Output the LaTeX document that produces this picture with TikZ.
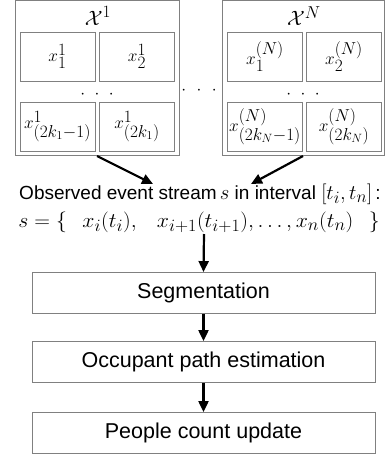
\documentclass[tikz,border=0pt]{standalone}
\usepackage{graphicx}
\usepackage{fontspec}
\setsansfont{Liberation Sans}
\usetikzlibrary{arrows.meta,calc}
\DeclareMathSizes{19}{19}{17}{12.5}
\DeclareMathSizes{20}{20}{17}{13}
\DeclareMathSizes{21}{21}{17.5}{13}
\begin{document}
\begin{tikzpicture}[x=1pt,y=-1pt,
  outerbox/.style={draw=black!50,line width=1pt,inner sep=0pt},
  cell/.style={draw=black!50,line width=0.9pt,minimum width=75pt,minimum height=49pt,inner sep=0pt,font=\fontsize{19}{22}\selectfont},
  flowbox/.style={draw=black!50,line width=0.9pt,minimum width=343pt,minimum height=41pt,inner sep=0pt,font=\sffamily\fontsize{21.5}{24}\selectfont},
  flowarrow/.style={line width=2.2pt,-{Triangle[length=11pt,width=10pt]}},
  biglabel/.style={font=\fontsize{21}{24}\selectfont,inner sep=0pt},
  dotsnode/.style={font=\fontsize{19}{22}\selectfont,inner sep=0pt}
]
\useasboundingbox (0,0) rectangle (390,459);
% outer boxes
\node[outerbox,minimum width=164pt,minimum height=155pt] (X1) at (97,78) {};
\node[outerbox,minimum width=162pt,minimum height=155pt] (XN) at (303,78) {};
\node[biglabel] (X1lab) at (98,16) {$\mathcal{X}^1$};
\node[biglabel] (XNlab) at (304,16) {$\mathcal{X}^N$};
% left cells
\node[cell] (a1) at (57.5,56.5) {$x_1^1$};
\node[cell] (a2) at (137,56.5) {$x_2^1$};
\node[cell] (a3) at (57.5,126.5) {$x_{(2k_1-1)}^1$};
\node[cell] (a4) at (137,126.5) {$x_{(2k_1)}^1$};
\node[dotsnode] (ad) at (97,95) {$\cdot\hspace{0.3em}\cdot\hspace{0.3em}\cdot$};
% right cells
\node[cell] (b1) at (265,56.5) {$x_1^{(N)}$};
\node[cell] (b2) at (344,56.5) {$x_2^{(N)}$};
\node[cell] (b3) at (265,126.5) {$x_{(2k_N-1)}^{(N)}$};
\node[cell] (b4) at (344,126.5) {$x_{(2k_N)}^{(N)}$};
\node[dotsnode] (bd) at (303,95) {$\cdot\hspace{0.3em}\cdot\hspace{0.3em}\cdot$};
% middle dots
\node[dotsnode] (md) at (199,91) {$\cdot\hspace{0.35em}\cdot\hspace{0.35em}\cdot$};
% observed line
\node[inner sep=0pt,font=\sffamily\fontsize{19}{22}\selectfont] (obs) at (200,194)
  {Observed event stream\,{\fontsize{20}{23}\selectfont$s$} in interval\ {\fontsize{20}{23}\selectfont$[t_i,t_n]$}\,:};
\node[inner sep=0pt,font=\fontsize{21}{24}\selectfont] (form) at (199,222)
  {\scalebox{1.05}[1]{$s=\big\{\hspace{0.7em} x_i(t_i),\hspace{0.75em} x_{i+1}(t_{i+1}),\dots,x_n(t_n)\hspace{0.7em}\big\}$}};
\coordinate (la) at (153,184);
\coordinate (ra) at (251,184);
\draw[flowarrow] (X1.south) -- (la);
\draw[flowarrow] (XN.south) -- (ra);
% flow boxes
\node[flowbox] (seg) at (203.5,293) {Segmentation};
\node[flowbox] (occ) at (203.5,362) {Occupant path estimation};
\node[flowbox] (ppl) at (203.5,433) {People count update};
\draw[flowarrow] (204,234) -- (seg.north);
\draw[flowarrow] (seg) -- (occ);
\draw[flowarrow] (occ) -- (ppl);
\end{tikzpicture}
\end{document}
